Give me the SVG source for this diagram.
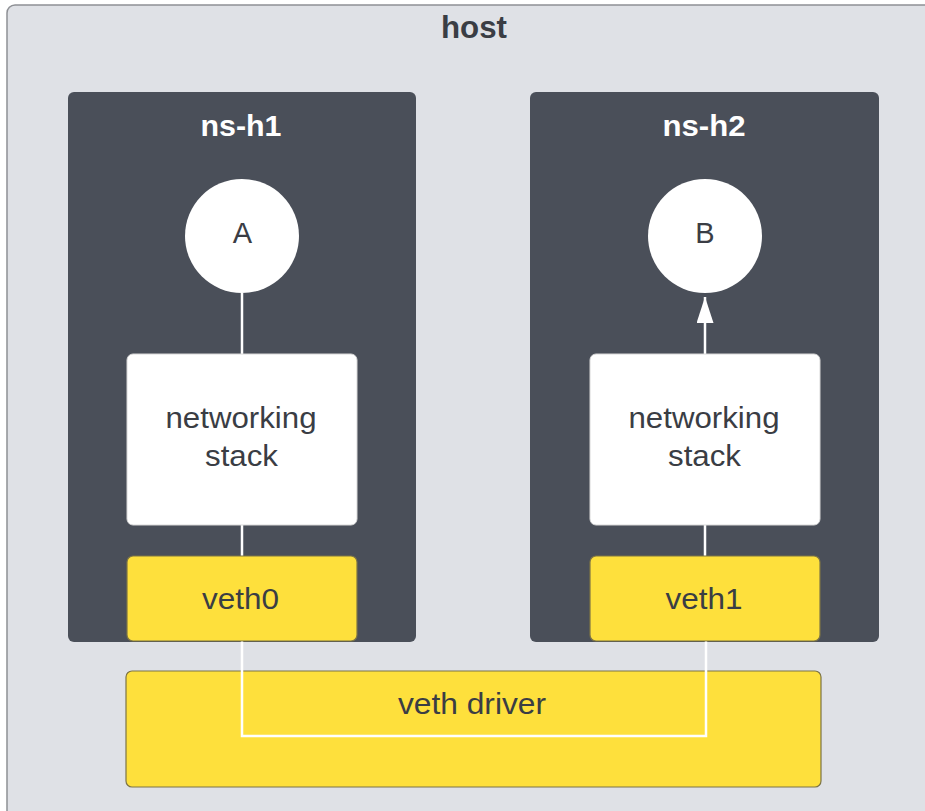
<svg xmlns="http://www.w3.org/2000/svg" width="925" height="811" viewBox="0 0 925 811">
<defs>
<style>
.host{fill:#dfe1e6;stroke:#8e9095;stroke-width:1.5}
.ns{fill:#4a4f59}
.white{fill:#ffffff;stroke:#d8d8d8;stroke-width:1}
.yellow{fill:#fee03c;stroke:#7d7445;stroke-width:1.2}
.title{font-family:"Liberation Sans",Arial,sans-serif;font-weight:bold;font-size:31px;fill:#3a3d44;text-anchor:middle}
.nstitle{font-family:"Liberation Sans",Arial,sans-serif;font-weight:bold;font-size:29px;fill:#ffffff;text-anchor:middle}
.lbl{font-family:"Liberation Sans",Arial,sans-serif;font-size:29px;fill:#3a3d44;text-anchor:middle}
.conn{fill:none;stroke:#ffffff;stroke-width:2.5}
</style>
<marker id="arr" viewBox="0 0 26 17" refX="26" refY="8.5" markerWidth="26" markerHeight="17" markerUnits="userSpaceOnUse" orient="auto">
<path d="M0,0 L26,8.5 L0,17 z" fill="#ffffff"/>
</marker>
</defs>
<g id="host">
<rect class="host" x="7" y="5" width="930" height="820" rx="8"/>
<text class="title" x="474" y="38" textLength="66" lengthAdjust="spacingAndGlyphs">host</text>
</g>
<g id="ns-h1">
<rect class="ns" x="68" y="92" width="348" height="550" rx="6"/>
<text class="nstitle" x="241" y="136" textLength="81" lengthAdjust="spacingAndGlyphs">ns-h1</text>
</g>
<g id="ns-h2">
<rect class="ns" x="530" y="92" width="349" height="550" rx="6"/>
<text class="nstitle" x="704" y="136" textLength="83" lengthAdjust="spacingAndGlyphs">ns-h2</text>
</g>
<g id="connectors">
<line class="conn" x1="242" y1="293" x2="242" y2="354"/>
<line class="conn" x1="242" y1="525" x2="242" y2="556"/>
<line class="conn" x1="705" y1="525" x2="705" y2="556"/>
<line class="conn" x1="705" y1="354" x2="705" y2="297" marker-end="url(#arr)"/>
</g>
<g id="veth-driver">
<rect class="yellow" x="126" y="671" width="695" height="116" rx="6"/>
<text class="lbl" x="472" y="714" textLength="148" lengthAdjust="spacingAndGlyphs">veth driver</text>
</g>
<g id="veth-link">
<polyline class="conn" points="242,641 242,736 706,736 706,641"/>
</g>
<g id="A">
<circle cx="242" cy="236" r="57" fill="#ffffff"/>
<text class="lbl" x="242.5" y="243">A</text>
</g>
<g id="B">
<circle cx="705" cy="236" r="57" fill="#ffffff"/>
<text class="lbl" x="705" y="243">B</text>
</g>
<g id="stack1">
<rect class="white" x="127" y="354" width="230" height="171" rx="6"/>
<text class="lbl" x="241" y="428" textLength="151" lengthAdjust="spacingAndGlyphs">networking</text>
<text class="lbl" x="241.5" y="466" textLength="73" lengthAdjust="spacingAndGlyphs">stack</text>
</g>
<g id="stack2">
<rect class="white" x="590" y="354" width="230" height="171" rx="6"/>
<text class="lbl" x="704" y="428" textLength="151" lengthAdjust="spacingAndGlyphs">networking</text>
<text class="lbl" x="704.5" y="466" textLength="73" lengthAdjust="spacingAndGlyphs">stack</text>
</g>
<g id="veth0">
<rect class="yellow" x="127" y="556" width="230" height="85" rx="6"/>
<text class="lbl" x="240.5" y="609" textLength="77" lengthAdjust="spacingAndGlyphs">veth0</text>
</g>
<g id="veth1">
<rect class="yellow" x="590" y="556" width="230" height="85" rx="6"/>
<text class="lbl" x="704" y="609" textLength="77" lengthAdjust="spacingAndGlyphs">veth1</text>
</g>
</svg>
